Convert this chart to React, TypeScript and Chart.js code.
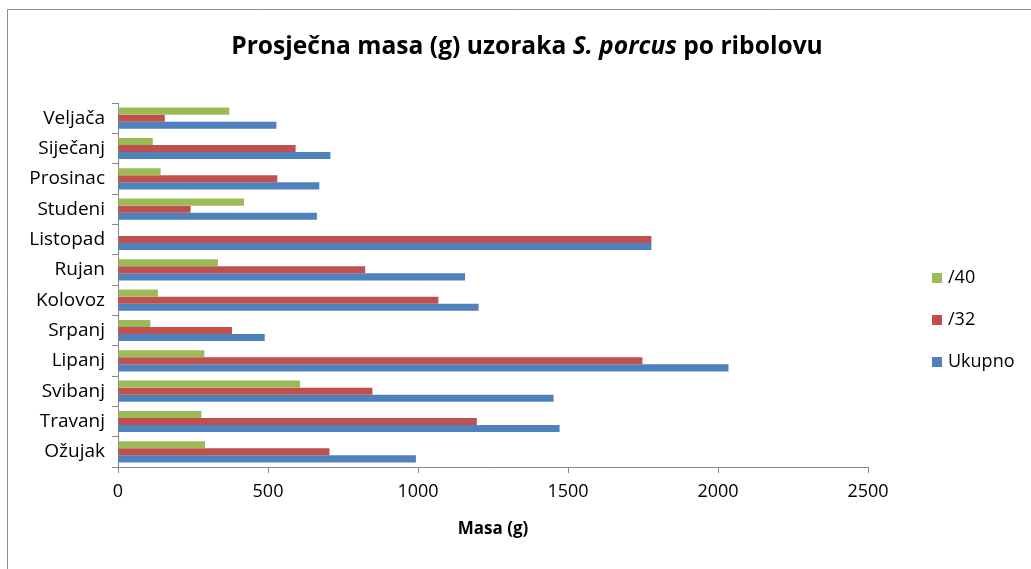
import { useEffect, useRef } from 'react';
import { Chart, registerables } from 'chart.js';

Chart.register(...registerables);

// ---- data ----
const months = ['Veljača', 'Siječanj', 'Prosinac', 'Studeni', 'Listopad', 'Rujan', 'Kolovoz', 'Srpanj', 'Lipanj', 'Svibanj', 'Travanj', 'Ožujak'];
const series40: (number | null)[] = [371, 116, 142, 420, null, 333, 133, 108, 288, 607, 278, 290];
const series32 = [156, 592, 531, 242, 1778, 824, 1068, 380, 1748, 848, 1196, 705];
const seriesTotal = [528, 708, 671, 663, 1778, 1157, 1202, 489, 2035, 1452, 1472, 993];
const seriesNames = ['/40', '/32', 'Ukupno'];
const seriesColors = ['#9BBB59', '#C0504D', '#4F81BD'];
const xTickValues = [0, 500, 1000, 1500, 2000, 2500];
const titleParts = [
  { text: 'Prosječna masa (g) uzoraka ', italic: false },
  { text: 'S. porcus', italic: true },
  { text: ' po ribolovu', italic: false },
];
const xAxisTitle = 'Masa (g)';

const FONT = '"Open Sans", Lato, sans-serif';
const W = 1031;
const H = 569;

const decorPlugin = {
  id: 'decor',
  beforeDraw(chart: any) {
    const ctx = chart.ctx as CanvasRenderingContext2D;
    ctx.save();
    ctx.fillStyle = '#ffffff';
    ctx.fillRect(0, 0, chart.width, chart.height);
    ctx.strokeStyle = '#8c8c8c';
    ctx.lineWidth = 1;
    ctx.beginPath();
    ctx.moveTo(7.5, chart.height);
    ctx.lineTo(7.5, 9.5);
    ctx.lineTo(chart.width, 9.5);
    ctx.stroke();
    ctx.restore();
  },
  afterDraw(chart: any) {
    const ctx = chart.ctx as CanvasRenderingContext2D;
    ctx.save();
    // title with mixed styles
    const size = 24.6;
    const fonts = titleParts.map((p) => `${p.italic ? 'italic ' : ''}bold ${size}px ${FONT}`);
    const widths = titleParts.map((p, i) => {
      ctx.font = fonts[i];
      return ctx.measureText(p.text).width;
    });
    const total = widths.reduce((a, b) => a + b, 0);
    let x = 527 - total / 2;
    ctx.fillStyle = '#000';
    ctx.textBaseline = 'middle';
    ctx.textAlign = 'left';
    titleParts.forEach((p, i) => {
      ctx.font = fonts[i];
      ctx.fillText(p.text, x, 47);
      x += widths[i];
    });
    // legend
    const lx = 932;
    const ly0 = 278;
    const step = 42;
    ctx.font = `18px ${FONT}`;
    chart.data.datasets.forEach((ds: any, i: number) => {
      const y = ly0 + i * step;
      ctx.fillStyle = ds.backgroundColor;
      ctx.fillRect(lx, y - 5, 10, 10);
      ctx.fillStyle = '#000';
      ctx.fillText(ds.label, lx + 16, y);
    });
    ctx.restore();
  },
};

export default function App() {
  const ref = useRef<HTMLCanvasElement | null>(null);

  useEffect(() => {
    if (!ref.current) return;
    const datasets = [series40, series32, seriesTotal].map((d, i) => ({
      label: seriesNames[i],
      data: d,
      backgroundColor: seriesColors[i],
      borderWidth: 0,
      categoryPercentage: 0.7,
      barPercentage: 1.0,
    }));
    const chart = new Chart(ref.current, {
      type: 'bar',
      data: { labels: months, datasets },
      plugins: [decorPlugin],
      options: {
        indexAxis: 'y',
        responsive: false,
        animation: false,
        devicePixelRatio: 1,
        layout: { padding: { top: 103, right: W - 868, left: 0, bottom: 0 } },
        plugins: {
          legend: { display: false },
          title: { display: false },
          tooltip: { enabled: false },
        },
        scales: {
          y: {
            type: 'category',
            offset: true,
            grid: { offset: true, drawOnChartArea: false, drawTicks: true, tickLength: 6, color: '#868686' },
            border: { display: true, color: '#868686', width: 1 },
            ticks: { font: { family: FONT, size: 19 }, color: '#000', padding: 7 },
            afterFit(s: any) {
              s.width = 118;
            },
          },
          x: {
            type: 'linear',
            min: xTickValues[0],
            max: xTickValues[xTickValues.length - 1],
            afterBuildTicks(s: any) {
              s.ticks = xTickValues.map((v) => ({ value: v }));
            },
            grid: { drawOnChartArea: false, drawTicks: true, tickLength: 6, color: '#868686' },
            border: { display: true, color: '#868686', width: 1 },
            ticks: {
              font: { family: FONT, size: 18 },
              color: '#000',
              padding: 8,
              callback: (v: any) => String(v),
            },
            title: {
              display: true,
              text: xAxisTitle,
              color: '#000',
              font: { family: FONT, size: 17, weight: 'bold' },
              padding: { top: 0, bottom: 30 },
            },
            afterFit(s: any) {
              s.height = 102;
            },
          },
        },
      },
    } as any);
    return () => chart.destroy();
  }, []);

  return (
    <div style={{ position: 'absolute', left: 0, top: 0, width: W, height: H, background: '#fff', overflow: 'hidden' }}>
      <canvas ref={ref} width={W} height={H} style={{ width: W, height: H, display: 'block' }} />
    </div>
  );
}
